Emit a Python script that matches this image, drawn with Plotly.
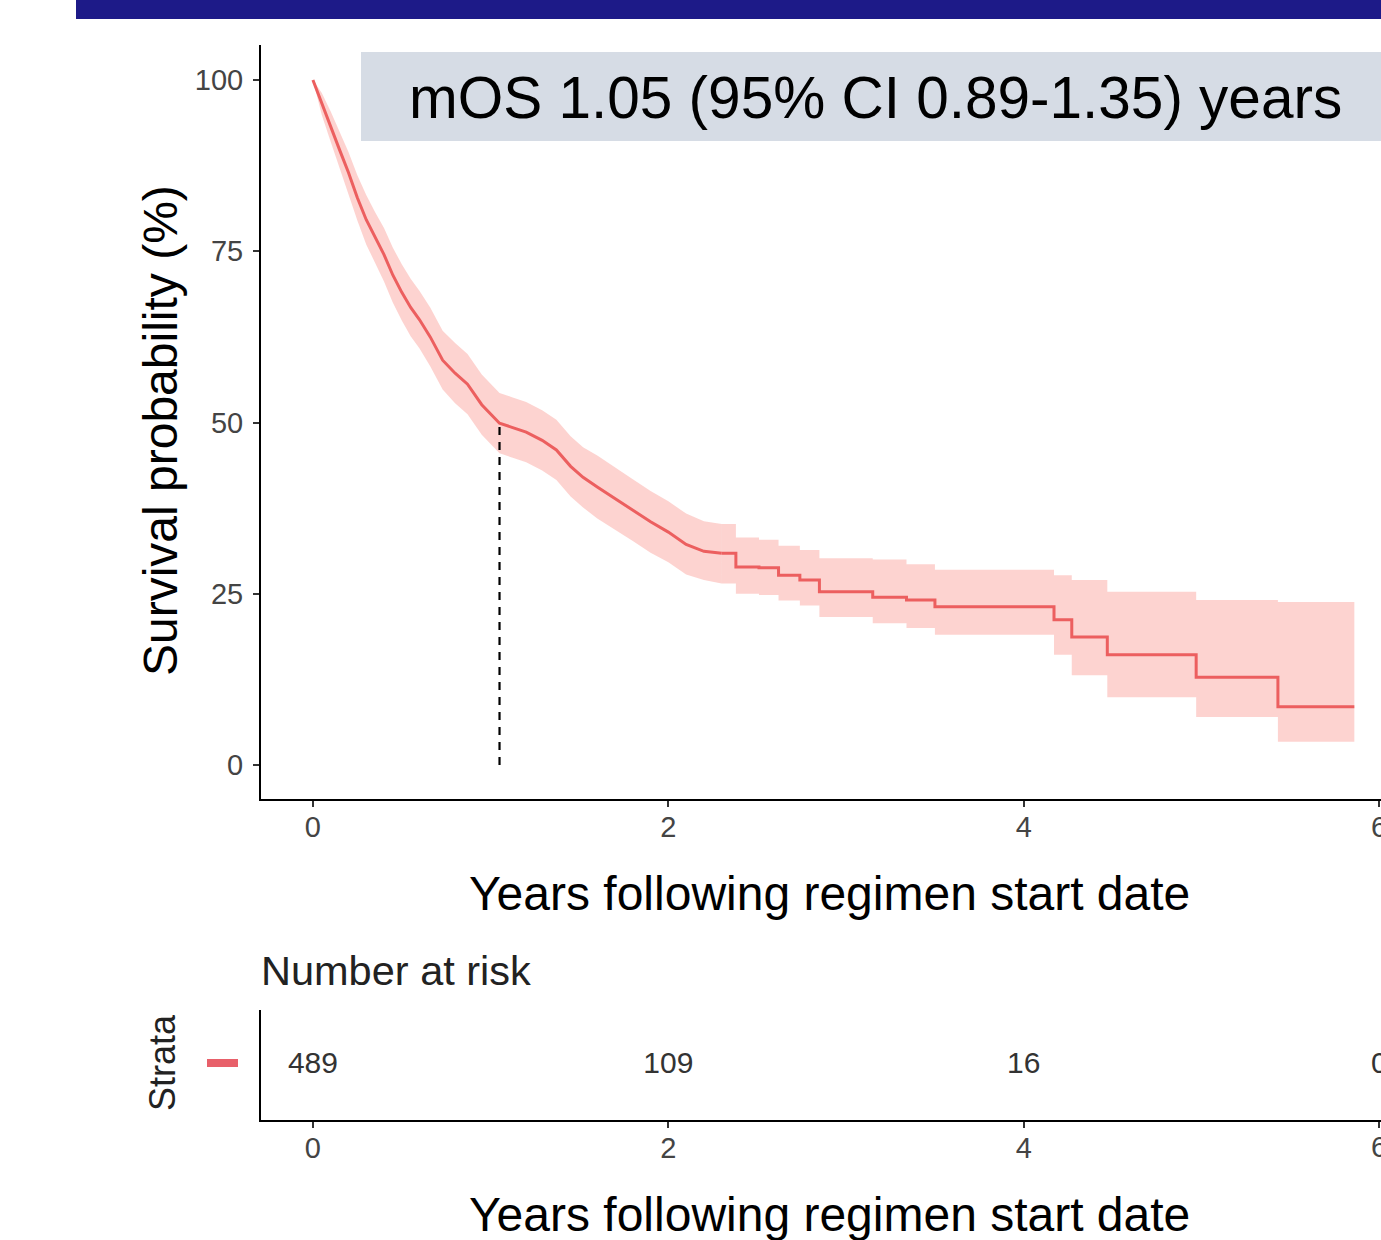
import plotly.graph_objects as go

# ---- data ----
time_yrs = [0, 0.05, 0.10, 0.15, 0.20, 0.25, 0.30, 0.35, 0.40, 0.45, 0.50, 0.55, 0.60, 0.66, 0.73,
            0.80, 0.87, 0.95, 1.05, 1.12, 1.20, 1.29, 1.37, 1.45, 1.52, 1.60, 1.70, 1.80, 1.90,
            2.00, 2.10, 2.20, 2.30, 2.38, 2.51, 2.62, 2.74, 2.85, 3.15, 3.34, 3.50, 4.17, 4.27,
            4.47, 4.97, 5.43]
survival = [100, 96.5, 93.2, 89.8, 86.5, 82.8, 79.6, 77.0, 74.5, 71.5, 69.0, 66.8, 65.0, 62.5, 59.1,
            57.2, 55.6, 52.6, 49.9, 49.3, 48.6, 47.4, 46.0, 43.6, 42.0, 40.6, 38.9, 37.2, 35.5,
            34.0, 32.2, 31.2, 30.9, 28.9, 28.8, 27.7, 27.0, 25.3, 24.5, 24.1, 23.1, 21.2, 18.7,
            16.1, 12.8, 8.5]
ci_lower = [100, 94.9, 91.0, 87.1, 83.5, 79.5, 76.0, 73.3, 70.6, 67.5, 64.9, 62.6, 60.8, 58.2, 54.8,
            52.8, 51.2, 48.2, 45.5, 44.9, 44.2, 43.0, 41.6, 39.2, 37.6, 36.0, 34.4, 32.7, 31.0,
            29.6, 27.8, 27.0, 26.5, 25.0, 24.8, 24.0, 23.3, 21.6, 20.7, 20.0, 19.0, 16.1, 13.1,
            9.9, 7.0, 3.4]
ci_upper = [100, 98.1, 95.4, 92.5, 89.5, 86.1, 83.2, 80.7, 78.4, 75.5, 73.1, 71.0, 69.2, 66.8, 63.4,
            61.6, 60.0, 57.0, 54.3, 53.7, 53.0, 51.8, 50.4, 48.0, 46.4, 45.2, 43.4, 41.7, 40.0,
            38.5, 36.7, 35.6, 35.2, 33.2, 32.9, 32.0, 31.4, 30.2, 30.0, 29.3, 28.5, 27.7, 27.0,
            25.3, 24.1, 23.8]
last_followup = 5.86
median_os = 1.05
median_line_y = [0, 50]

risk_times = [0, 2, 4, 6]
risk_counts = ["489", "109", "16", "0"]
x_ticks = [0, 2, 4, 6]
y_ticks = [0, 25, 50, 75, 100]

title_text = "mOS 1.05 (95% CI 0.89-1.35) years"
x_title = "Years following regimen start date"
y_title = "Survival probability (%)"

# dense early part (many tiny steps -> drawn smooth), visible steps afterwards
split_t = 2.30
k = time_yrs.index(split_t)
t_full = time_yrs + [last_followup]
s_full = survival + [survival[-1]]
lo_full = ci_lower + [ci_lower[-1]]
hi_full = ci_upper + [ci_upper[-1]]

W, H = 1381, 1240
def px_x(p): return p / W
def px_y(p): return 1 - p / H

FONT = "Liberation Sans, Arial, sans-serif"
LINE_COL = "#ec5f5f"
BAND_COL = "rgba(248,118,109,0.32)"
TICK_FONT = dict(family=FONT, size=29, color="#444444")

px_per_year = 178.0
x_min = -(313 - 261) / px_per_year
x_max = x_min + (1381 - 261) / px_per_year + 0.01
px_per_pct = (765 - 80) / 100.0
y_min = -(799 - 765) / px_per_pct
y_max = (765 - 45) / px_per_pct

fig = go.Figure()

segments = [(slice(0, k + 1), "linear"), (slice(k, None), "hv")]
for sl, shape in segments:
    fig.add_trace(go.Scatter(x=t_full[sl], y=lo_full[sl], mode="lines",
                             line=dict(width=0, shape=shape), hoverinfo="skip",
                             showlegend=False, xaxis="x", yaxis="y"))
    fig.add_trace(go.Scatter(x=t_full[sl], y=hi_full[sl], mode="lines",
                             line=dict(width=0, shape=shape), fill="tonexty",
                             fillcolor=BAND_COL, hoverinfo="skip",
                             showlegend=False, xaxis="x", yaxis="y"))
for sl, shape in segments:
    fig.add_trace(go.Scatter(x=t_full[sl], y=s_full[sl], mode="lines",
                             line=dict(color=LINE_COL, width=3, shape=shape),
                             showlegend=False, xaxis="x", yaxis="y"))

fig.add_trace(go.Scatter(x=[median_os, median_os], y=median_line_y, mode="lines",
                         line=dict(color="black", width=2.2, dash="8px,7px"),
                         showlegend=False, xaxis="x", yaxis="y"))

# risk table numbers
fig.add_trace(go.Scatter(x=risk_times, y=[0.50] * len(risk_times), mode="text",
                         text=risk_counts, textposition="middle center",
                         textfont=dict(family=FONT, size=30, color="#333333"),
                         showlegend=False, xaxis="x2", yaxis="y2", cliponaxis=False))

axis_common = dict(showgrid=False, zeroline=False, showline=True, linecolor="black", linewidth=2,
                   ticks="outside", ticklen=6, tickwidth=1.5, tickcolor="#333333",
                   tickfont=TICK_FONT)

# last tick label (cut by the page edge, as in the reference) – plotly hides it otherwise
edge_tick = x_ticks[-1]
edge_labels = [
    dict(text=str(edge_tick), xref="x", yref="paper", x=edge_tick, y=px_y(827),
         xanchor="center", yanchor="middle", showarrow=False, font=TICK_FONT),
    dict(text=str(edge_tick), xref="x2", yref="paper", x=edge_tick, y=px_y(1147),
         xanchor="center", yanchor="middle", showarrow=False, font=TICK_FONT),
]

fig.update_layout(
    width=W, height=H, margin=dict(l=0, r=0, t=0, b=0),
    paper_bgcolor="white", plot_bgcolor="white",
    xaxis=dict(domain=[px_x(261), 1], range=[x_min, x_max], tickvals=x_ticks, anchor="y",
               ticklabelstandoff=-5, **axis_common),
    yaxis=dict(domain=[px_y(799), px_y(45)], range=[y_min, y_max], tickvals=y_ticks, anchor="x",
               ticklabelstandoff=4, **axis_common),
    xaxis2=dict(domain=[px_x(261), 1], range=[x_min, x_max], tickvals=x_ticks, anchor="y2",
                ticklabelstandoff=-5, **axis_common),
    yaxis2=dict(domain=[px_y(1120), px_y(1010)], range=[0, 1], anchor="x2",
                showgrid=False, zeroline=False, showline=True, linecolor="black", linewidth=2,
                showticklabels=False, ticks=""),
    shapes=[
        dict(type="rect", xref="paper", yref="paper", x0=px_x(76), x1=1, y0=px_y(19), y1=1,
             fillcolor="#1d1a88", line=dict(width=0), layer="above"),
        dict(type="rect", xref="paper", yref="paper", x0=px_x(361), x1=1, y0=px_y(141), y1=px_y(52),
             fillcolor="#d6dce5", line=dict(width=0), layer="above"),
        dict(type="rect", xref="paper", yref="paper", x0=px_x(207), x1=px_x(238),
             y0=px_y(1067), y1=px_y(1059), fillcolor="#e8606a", line=dict(width=0)),
    ],
    annotations=[
        dict(text=title_text, xref="paper", yref="paper", x=px_x(875), y=px_y(97),
             xanchor="center", yanchor="middle", showarrow=False,
             font=dict(family=FONT, size=58.5, color="black")),
        dict(text=x_title, xref="paper", yref="paper", x=px_x(829), y=px_y(893),
             xanchor="center", yanchor="middle", showarrow=False,
             font=dict(family=FONT, size=48, color="black")),
        dict(text=x_title, xref="paper", yref="paper", x=px_x(829), y=px_y(1214),
             xanchor="center", yanchor="middle", showarrow=False,
             font=dict(family=FONT, size=48, color="black")),
        dict(text=y_title, xref="paper", yref="paper", x=px_x(160), y=px_y(431),
             xanchor="center", yanchor="middle", showarrow=False, textangle=-90,
             font=dict(family=FONT, size=48, color="black")),
        dict(text="Number at risk", xref="paper", yref="paper", x=px_x(259), y=px_y(970),
             xanchor="left", yanchor="middle", showarrow=False,
             font=dict(family=FONT, size=41.5, color="#222222")),
        dict(text="Strata", xref="paper", yref="paper", x=px_x(162), y=px_y(1063),
             xanchor="center", yanchor="middle", showarrow=False, textangle=-90,
             font=dict(family=FONT, size=36, color="#222222")),
    ] + edge_labels,
)

fig.write_html("out.html", config={"displayModeBar": False, "responsive": False},
               post_script="document.body.style.margin='0';"
                           "document.body.style.overflow='hidden';"
                           "document.documentElement.style.overflow='hidden';")
